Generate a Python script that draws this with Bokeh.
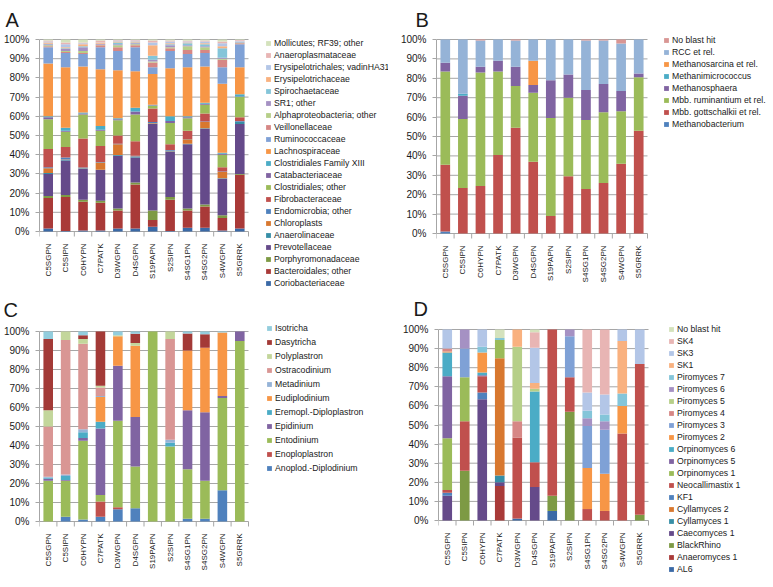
import math
from bokeh.plotting import figure
from bokeh.models import Range1d, FixedTicker, PrintfTickFormatter, Legend, LegendItem, ColumnDataSource
from bokeh.core.properties import value
from bokeh.layouts import column, row
from bokeh.embed import file_html
from bokeh.resources import INLINE

SAMPLES = ["C5SGPN", "C5SIPN", "C6HYPN", "C7PATK", "D3WGPN", "D4SGPN",
           "S19PAPN", "S2SIPN", "S4SG1PN", "S4SG2PN", "S4WGPN", "S5GRRK"]
PCT_TICKS = [0, 10, 20, 30, 40, 50, 60, 70, 80, 90, 100]

# ---------- Panel A: bacteria (stack order bottom -> top) ----------
A_SERIES = ["Coriobacteriaceae", "Bacteroidales; other", "Porphyromonadaceae", "Prevotellaceae",
            "Anaerolinaceae", "Chloroplasts", "Endomicrobia; other", "Fibrobacteraceae",
            "Clostridiales; other", "Catabacteriaceae", "Clostridiales Family XIII", "Lachnospiraceae",
            "Ruminococcaceae", "Veillonellaceae", "Alphaproteobacteria; other", "SR1; other",
            "Spirochaetaceae", "Erysipelotrichaceae", "Erysipelotrichales; vadinHA31",
            "Anaeroplasmataceae", "Mollicutes; RF39; other"]
# one row per sample, one value (%) per series
A_SHARES = [
    [1.5, 16, 1, 11.5, 0.5, 2.5, 0.5, 9.5, 15.5, 1, 0.5, 27.5, 8.5, 0.5, 0.5, 0.5, 0.3, 0.7, 0.5, 0.5, 0.5],
    [0.3, 17.7, 1, 18, 0.3, 0.2, 1, 5.5, 8, 0.5, 1.5, 31.5, 7.5, 0.5, 0.5, 1, 0.5, 0.5, 1.5, 1, 1.5],
    [0.5, 15, 1, 16, 0.3, 0.2, 0.3, 15.2, 12.5, 0.5, 0.5, 24, 6.5, 0.5, 1, 2, 0.5, 1, 0.5, 0.5, 1.5],
    [0.5, 14.5, 1, 16, 0.2, 3.8, 0.2, 8.3, 8, 0.5, 2, 29.5, 11.5, 1, 0.3, 0.3, 0.2, 0.5, 0.2, 1, 0.5],
    [1.5, 9.5, 1, 27.5, 0.3, 5.7, 0.2, 4.3, 8, 0.5, 0.5, 25, 10, 2, 1, 0.5, 1, 0.5, 0.5, 0.3, 0.2],
    [1.5, 23, 1, 13, 0.3, 0.2, 0.5, 7.5, 14, 1.5, 2, 19, 12.5, 1, 0.5, 0.5, 0.5, 0.5, 0.5, 0.2, 0.3],
    [2.5, 3.5, 5, 45, 0.3, 0.2, 0.5, 7, 1.5, 0.3, 0.2, 16, 3.5, 2.5, 0.5, 1, 2, 5.5, 1.5, 1, 0.5],
    [0.3, 16.2, 1.5, 23.5, 0.3, 0.2, 0.5, 3, 11, 1, 2.5, 25, 9, 1.5, 0.5, 1, 0.5, 0.5, 1, 0.5, 0.5],
    [2, 9, 1, 33.5, 0.2, 2.3, 0.2, 4.3, 6.5, 0.5, 0.5, 25.5, 7, 2, 2, 0.5, 1, 0.5, 0.5, 0.3, 0.7],
    [2, 11, 1, 39.5, 0.3, 3.2, 0.3, 4.2, 4.5, 0.5, 0.5, 19, 7, 1.5, 1.5, 0.5, 1, 0.5, 1, 0.5, 0.5],
    [0.5, 6.5, 1.5, 19, 0.2, 3.3, 0.2, 2.3, 6.5, 0.5, 0.5, 36, 8.5, 4, 0.5, 0.5, 5, 1, 1.5, 1, 1],
    [1.5, 28, 0.5, 26, 1, 0.2, 0.3, 2, 10.5, 0.3, 1.2, 14, 12, 0.5, 0.3, 0.3, 0.2, 0.2, 0.3, 0.4, 0.3],
]

# ---------- Panel B: methanogens ----------
B_SERIES = ["Methanobacterium", "Mbb. gottschalkii et rel.", "Mbb. ruminantium et rel.",
            "Methanosphaera", "Methanimicrococcus", "Methanosarcina et rel.", "RCC et rel.", "No blast hit"]
B_SHARES = [
    [1, 34.5, 48, 4.5, 0, 0, 12, 0],
    [0, 23.5, 35.5, 12, 1, 0, 28, 0],
    [0, 24.5, 58.5, 3, 0, 0, 13.5, 0.5],
    [0, 40.5, 43, 5.5, 0, 0, 11, 0],
    [0, 54.5, 21.5, 10, 0, 0, 13.5, 0.5],
    [0, 37, 35.5, 4, 0, 12.5, 11, 0],
    [0, 9, 50.5, 19.5, 0, 0, 21, 0],
    [0, 29.5, 40.5, 12, 0, 0, 18, 0],
    [0, 23, 35.5, 15.5, 0, 0, 25.5, 0.5],
    [0, 26, 36.5, 14.5, 0, 0, 22.5, 0.5],
    [0, 36, 27, 10.5, 0, 0, 24.5, 2],
    [0, 53, 27.5, 2, 0, 0, 17.5, 0],
]

# ---------- Panel C: ciliates ----------
C_SERIES = ["Anoplod.-Diplodinium", "Enoploplastron", "Entodinium", "Epidinium",
            "Eremopl.-Diploplastron", "Eudiplodinium", "Metadinium", "Ostracodinium",
            "Polyplastron", "Dasytricha", "Isotricha"]
C_SHARES = [
    [0, 0, 21.5, 1, 0.5, 0, 0.5, 26.5, 8.5, 37.5, 4],
    [2.5, 0, 19, 0.3, 2.2, 0, 0.7, 70.8, 4.5, 0, 0],
    [1, 0, 41.5, 1.5, 3, 0, 1.5, 45, 2.5, 2, 2],
    [2.5, 8, 3.5, 35, 3.5, 13, 0.5, 4.5, 1, 28.5, 0],
    [6.5, 1, 45.5, 29, 0, 15.5, 0, 0, 0.5, 0, 2],
    [7, 0, 22, 26, 0, 37.5, 0, 0, 1.5, 4.8, 1.2],
    [0, 0, 100, 0, 0, 0, 0, 0, 0, 0, 0],
    [0, 0, 39.5, 0, 2, 0, 1.5, 53, 4, 0, 0],
    [1.5, 0, 26, 31, 0, 31.5, 0, 0, 0, 9, 1],
    [1.5, 0, 20, 36, 0, 34, 0, 0, 0, 7, 1.5],
    [16.5, 0, 48.5, 1, 0, 33.5, 0, 0, 0, 0, 0.5],
    [0, 0, 95, 5, 0, 0, 0, 0, 0, 0, 0],
]

# ---------- Panel D: fungi ----------
D_SERIES = ["AL6", "Anaeromyces 1", "BlackRhino", "Caecomyces 1", "Cyllamyces 1", "Cyllamyces 2",
            "KF1", "Neocallimastix 1", "Orpinomyces 1", "Orpinomyces 5", "Orpinomyces 6",
            "Piromyces 2", "Piromyces 3", "Piromyces 4", "Piromyces 5", "Piromyces 6",
            "Piromyces 7", "SK1", "SK3", "SK4", "No blast hit"]
D_SHARES = [
    [0, 0, 0, 13, 0, 0, 1.5, 1.5, 27, 32.5, 12.5, 0.5, 0, 1.5, 0, 0, 0, 0, 10, 0, 0],
    [0, 0, 26, 0, 0, 0, 0, 26, 23, 0, 0, 0, 15, 0, 0, 10, 0, 0, 0, 0, 0],
    [0, 0, 0, 63.5, 0, 0, 3.5, 8.5, 0, 0.5, 1.5, 10.5, 0, 0, 0, 0, 3, 0, 9, 0, 0],
    [0, 18, 0, 2, 3.5, 61.5, 0, 0, 9.5, 0, 0, 0, 0, 0, 0, 0, 1, 0, 0, 0, 4.5],
    [1, 0, 0, 0, 0, 0, 0, 42.5, 0, 0, 0, 0, 0, 8.5, 39, 0, 0, 9, 0, 0, 0],
    [0, 0, 0, 17.5, 0, 0, 0, 13, 0, 0, 37, 0, 0, 0, 1.5, 0, 0, 3, 18.5, 8, 1.5],
    [5, 0, 8, 0, 0, 0, 0, 87, 0, 0, 0, 0, 0, 0, 0, 0, 0, 0, 0, 0, 0],
    [0, 0, 57, 0, 0, 0, 0, 18, 0, 0, 0, 0, 21.5, 0, 0, 3.5, 0, 0, 0, 0, 0],
    [0, 0, 0, 0, 0, 0, 0, 6, 0, 0, 0, 21.5, 22, 0, 0, 4, 4, 0, 9.5, 33, 0],
    [0, 0, 0, 0, 0, 0, 0, 5, 0, 0, 0, 19.5, 23, 0, 0, 4.5, 3.5, 0, 10.5, 34, 0],
    [0, 0, 0, 0, 0, 0, 0, 45.5, 0, 0, 0, 14.5, 0, 0, 0, 0, 6.5, 27.5, 6, 0, 0],
    [0, 0, 3, 0, 0, 0, 0, 79, 0, 0, 0, 0, 0, 0, 0, 0, 0, 0, 18, 0, 0],
]

PALETTE_21 = ["#3A69A6", "#A93A38", "#7D9A44", "#654A8A", "#368EA6", "#D8782F",
              "#4F81BD", "#C0504D", "#9BBB59", "#8064A2", "#4BACC6", "#F79646",
              "#7FA1D6", "#D68785", "#B6CF88", "#A591C3", "#84C5D9", "#F9B17F",
              "#B3C6E7", "#E8B5B4", "#D4E2BC"]
PALETTE_B = ["#4F81BD", "#C0504D", "#9BBB59", "#8064A2", "#4BACC6", "#F79646", "#95B3D7", "#D99694"]
PALETTE_C = ["#4F81BD", "#C0504D", "#9BBB59", "#8064A2", "#4BACC6", "#F79646", "#95B3D7",
             "#D99694", "#C3D69B", "#A33A37", "#93CDDD"]

FONT = "Liberation Sans"
GRID = "#A6A6A6"
TEXT = "#1A1A1A"


def make_panel(letter, series, colors, shares, *, border_left, border_top, frame_w, frame_h,
               px_per_cat, px_per_pct, top_gap, title_offset, title_standoff, legend_loc, item_h):
    """One figure per panel; its frame holds the bars, the category labels and the legend."""
    n = len(SAMPLES)
    y_top = 100 + top_gap / px_per_pct
    y_bottom = y_top - frame_h / px_per_pct
    p = figure(frame_width=frame_w, frame_height=frame_h,
               min_border_left=border_left, min_border_right=0,
               min_border_top=border_top, min_border_bottom=0,
               x_range=Range1d(-0.5, -0.5 + frame_w / px_per_cat),
               y_range=Range1d(y_bottom, y_top),
               x_axis_location=None,
               output_backend="svg", toolbar_location=None, tools="")
    p.outline_line_color = None
    p.background_fill_color = "white"
    p.border_fill_color = "white"
    p.xgrid.visible = False
    p.ygrid.visible = False

    # horizontal gridlines limited to the category area
    p.segment(x0=[-0.5] * len(PCT_TICKS), x1=[n - 0.5] * len(PCT_TICKS),
              y0=PCT_TICKS, y1=PCT_TICKS, line_color=GRID, line_width=1)
    # category-boundary tick marks below the 0 % line
    p.ray(x=[i - 0.5 for i in range(n + 1)], y=[0] * (n + 1), length=5, length_units="screen",
          angle=-math.pi / 2, line_color=GRID, line_width=1)

    data = {"x": list(range(n))}
    cols = []
    for j in range(len(series)):
        c = f"s{j}"
        cols.append(c)
        data[c] = [r[j] for r in shares]
    src = ColumnDataSource(data)
    rends = p.vbar_stack(cols, x="x", width=0.55, source=src, fill_color=colors, line_color=None)

    # vertical category labels under the 0 % line
    p.text(x=list(range(n)), y=[0] * n, text=SAMPLES, angle=math.pi / 2,
           text_align="right", text_baseline="middle", y_offset=12,
           text_font=value(FONT), text_font_size=value("8px"), text_color=TEXT)

    items = [LegendItem(label=series[j], renderers=[rends[j]]) for j in range(len(series))][::-1]
    leg = Legend(items=items, location=legend_loc, orientation="vertical",
                 glyph_width=6, glyph_height=6, label_height=item_h, spacing=0,
                 padding=0, margin=0, label_standoff=3,
                 label_text_font=FONT, label_text_font_size="8.7px", label_text_color=TEXT,
                 border_line_alpha=0, background_fill_alpha=0)
    p.add_layout(leg)

    p.title.text = letter
    p.title.text_font = FONT
    p.title.text_font_size = "20px"
    p.title.text_font_style = "normal"
    p.title.text_color = TEXT
    p.title.offset = title_offset
    p.title.standoff = title_standoff

    p.yaxis.ticker = FixedTicker(ticks=PCT_TICKS)
    p.yaxis.bounds = (0, 100)
    p.yaxis.formatter = PrintfTickFormatter(format="%d%%")
    p.yaxis.major_label_text_font = FONT
    p.yaxis.major_label_text_font_size = "10px"
    p.yaxis.major_label_text_color = TEXT
    p.yaxis.major_label_standoff = 6
    p.yaxis.major_tick_out = 4
    p.yaxis.major_tick_in = 0
    p.yaxis.minor_tick_out = 0
    p.yaxis.minor_tick_in = 0
    p.yaxis.axis_line_color = GRID
    p.yaxis.major_tick_line_color = GRID
    return p


pA = make_panel("A", A_SERIES, PALETTE_21, A_SHARES, border_left=39, border_top=34,
                frame_w=349, frame_h=258, px_per_cat=209 / 12, px_per_pct=1.92, top_gap=5,
                title_offset=-34, title_standoff=7, legend_loc=(226, 3), item_h=12)
pB = make_panel("B", B_SERIES, PALETTE_B, B_SHARES, border_left=48, border_top=32,
                frame_w=335, frame_h=260, px_per_cat=211 / 12, px_per_pct=1.94, top_gap=5,
                title_offset=-21, title_standoff=8, legend_loc=(227, 162), item_h=12)
pC = make_panel("C", C_SERIES, PALETTE_C, C_SHARES, border_left=39, border_top=29,
                frame_w=349, frame_h=264, px_per_cat=209 / 12, px_per_pct=1.90, top_gap=8,
                title_offset=-36, title_standoff=5, legend_loc=(227, 110), item_h=14)
pD = make_panel("D", D_SERIES, PALETTE_21, D_SHARES, border_left=50, border_top=31,
                frame_w=333, frame_h=262, px_per_cat=210 / 12, px_per_pct=1.91, top_gap=6,
                title_offset=-25, title_standoff=7, legend_loc=(230, 10), item_h=12)

layout = column(row(pA, pB), row(pC, pD))
open("out.html", "w").write(file_html(layout, INLINE))
